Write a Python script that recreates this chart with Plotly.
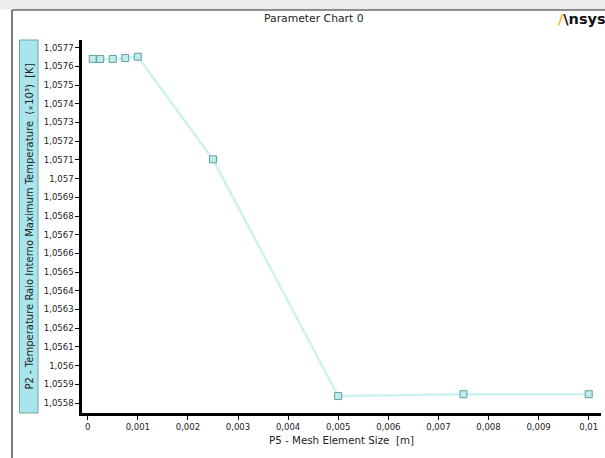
import plotly.graph_objects as go

# Data
mesh_size = [0.0001, 0.00025, 0.0005, 0.00075, 0.001, 0.0025, 0.005, 0.0075, 0.01]
max_temp = [1.05764, 1.05764, 1.05764, 1.057645, 1.057652, 1.057103, 1.055837, 1.055847, 1.055847]

y_tickvals = [1.0558, 1.0559, 1.0560, 1.0561, 1.0562, 1.0563, 1.0564, 1.0565, 1.0566,
              1.0567, 1.0568, 1.0569, 1.0570, 1.0571, 1.0572, 1.0573, 1.0574, 1.0575,
              1.0576, 1.0577]
y_ticktext = ["1,0558", "1,0559", "1,056", "1,0561", "1,0562", "1,0563", "1,0564", "1,0565",
              "1,0566", "1,0567", "1,0568", "1,0569", "1,057", "1,0571", "1,0572", "1,0573",
              "1,0574", "1,0575", "1,0576", "1,0577"]
x_tickvals = [0, 0.001, 0.002, 0.003, 0.004, 0.005, 0.006, 0.007, 0.008, 0.009, 0.01]
x_ticktext = ["0", "0,001", "0,002", "0,003", "0,004", "0,005", "0,006", "0,007", "0,008",
              "0,009", "0,01"]

title_text = "Parameter Chart 0"
x_title = "P5 - Mesh Element Size  [m]"
y_title = "P2 - Temperature Raio Interno Maximum Temperature  (<span style='font-size:7px'>×</span>10³)  [K]"

FONT = "DejaVu Sans"

# pixel helpers for paper coordinates (plot area: x 82..601, y 40..413)
L, R, T, B = 82, 601, 40, 413
def px(x):
    return (x - L) / (R - L)
def py(y):
    return (B - y) / (B - T)

fig = go.Figure()
fig.add_trace(go.Scatter(
    x=mesh_size, y=max_temp, mode="lines+markers",
    line=dict(color="#cdf2f2", width=2.5),
    marker=dict(symbol="square", size=7, color="#bfecec",
                line=dict(color="#5f9ea0", width=1)),
    showlegend=False, cliponaxis=False,
))

shapes = [
    # top gray band
    dict(type="rect", xref="paper", yref="paper", x0=px(0), x1=px(606), y0=py(9.5), y1=py(-1),
         fillcolor="#ececec", line=dict(width=0), layer="below"),
    # outer frame lines
    dict(type="line", xref="paper", yref="paper", x0=px(12), x1=px(606), y0=py(10), y1=py(10),
         line=dict(color="#222222", width=1.2)),
    dict(type="line", xref="paper", yref="paper", x0=px(12), x1=px(12), y0=py(10), y1=py(460),
         line=dict(color="#222222", width=1.2)),
    # y title box
    dict(type="rect", xref="paper", yref="paper", x0=px(19.5), x1=px(38), y0=py(413), y1=py(40),
         fillcolor="#a9e5ea", line=dict(color="#6aa6ab", width=1), layer="below"),
]

annotations = [
    dict(text=title_text, xref="paper", yref="paper", x=px(313.5), y=py(19),
         showarrow=False, font=dict(family=FONT, size=10.8, color="#222222"),
         xanchor="center", yanchor="middle"),
    dict(text="<b><span style='color:#ffb71b'>/</span>\\nsys</b>", xref="paper", yref="paper",
         x=px(556), y=py(18.5), showarrow=False, font=dict(family=FONT, size=14.5, color="#111111"),
         xanchor="left", yanchor="middle"),
    dict(text=x_title, xref="paper", yref="paper", x=px(341.5), y=py(440),
         showarrow=False, font=dict(family=FONT, size=10.3, color="#222222"),
         xanchor="center", yanchor="middle"),
    dict(text=y_title, xref="paper", yref="paper", x=px(29), y=py(226.5), textangle=-90,
         showarrow=False, font=dict(family=FONT, size=10, color="#222222"),
         xanchor="center", yanchor="middle"),
]

fig.update_layout(
    width=605, height=458,
    margin=dict(l=L, r=605 - R, t=T, b=458 - B),
    paper_bgcolor="white", plot_bgcolor="white",
    font=dict(family=FONT, size=9, color="#222222"),
    shapes=shapes, annotations=annotations,
    xaxis=dict(range=[(L - 87.7) / 50100, (R - 87.7) / 50100],
               tickvals=x_tickvals, ticktext=x_ticktext,
               showgrid=False, zeroline=False, showline=True, linecolor="black", linewidth=2.5,
               ticks="outside", ticklen=4, tickwidth=1, tickcolor="black",
               tickfont=dict(family=FONT, size=8.5, color="#222222")),
    yaxis=dict(range=[1.0577 - (B - 47.7) / 187000, 1.0577 + (47.7 - T) / 187000],
               tickvals=y_tickvals, ticktext=y_ticktext,
               showgrid=False, zeroline=False, showline=True, linecolor="black", linewidth=2.5,
               ticks="outside", ticklen=4, tickwidth=1, tickcolor="black",
               tickfont=dict(family=FONT, size=8.5, color="#222222")),
)

fig.write_html("out.html", config={"displayModeBar": False},
               post_script="document.body.style.margin='0';document.body.style.overflow='hidden';")
